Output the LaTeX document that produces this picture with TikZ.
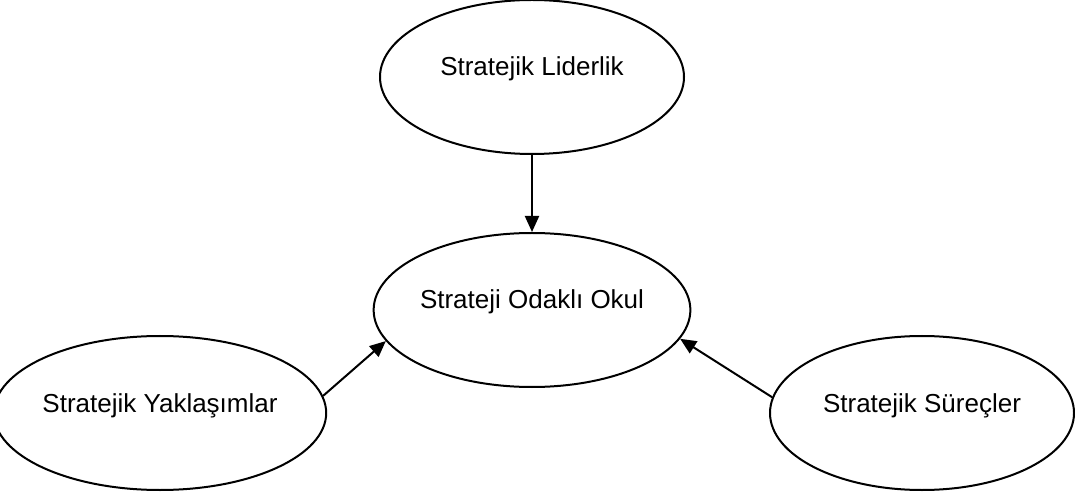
\documentclass[tikz,border=0pt]{standalone}
\usepackage{fontspec}
\setmainfont{Liberation Sans}
\usetikzlibrary{shapes.geometric,arrows.meta}
\tikzset{
  oval/.style={draw,ellipse,line width=2pt,minimum width=304pt,minimum height=154pt,
    inner sep=0pt,text height=18pt,text depth=20pt,font=\fontsize{26}{30}\selectfont},
  link/.style={line width=2pt,-{Triangle[length=16pt,width=14pt]}}
}
\begin{document}
\begin{tikzpicture}[x=1pt,y=1pt]
      \useasboundingbox (0,0) rectangle (1075,498);
      \draw
        (532,421) node[oval] (lider){Stratejik Liderlik}
        (532,188) node[oval] (okul){Strateji Odaklı Okul}
        (160,85) node[oval] (yaklasim){Stratejik Yaklaşımlar}
        (922,85) node[oval] (surec){Stratejik Süreçler};
      \begin{scope}[link]
        \draw (lider) to (okul);
        \draw (yaklasim.6) to (okul.192);
        \draw (surec.174) to (okul.349);
      \end{scope}
    \end{tikzpicture}
\end{document}
